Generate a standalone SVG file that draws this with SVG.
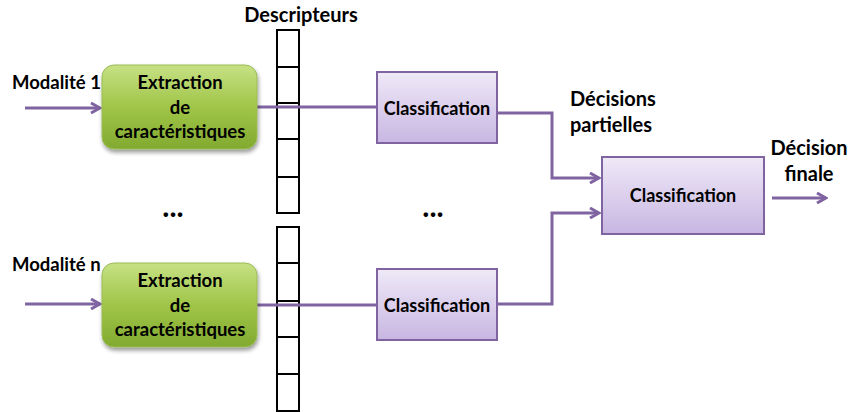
<svg xmlns="http://www.w3.org/2000/svg" width="850" height="412" viewBox="0 0 850 412">
<defs>
<style>
.t{font-family:Lato,"Liberation Sans",Arial,sans-serif;font-weight:bold;fill:#000;}
.c{text-anchor:middle;}
.wire{fill:none;stroke:#8064a2;stroke-width:3;}
.cell{fill:#fff;stroke:#000;stroke-width:2;}
.ext{fill:url(#gGreen);stroke:#9bbb59;stroke-width:1;filter:url(#sh);}
.cls{fill:url(#gPurple);stroke:#8064a2;stroke-width:2;}
</style>
<linearGradient id="gGreen" x1="0" y1="0" x2="0" y2="1">
<stop offset="0" stop-color="#c6e184"/>
<stop offset="0.5" stop-color="#a0c548"/>
<stop offset="1" stop-color="#82aa30"/>
</linearGradient>
<linearGradient id="gPurple" x1="0" y1="0" x2="0" y2="1">
<stop offset="0" stop-color="#efe9f7"/>
<stop offset="1" stop-color="#c8b6e2"/>
</linearGradient>
<filter id="sh" x="-10%" y="-10%" width="125%" height="130%">
<feGaussianBlur in="SourceAlpha" stdDeviation="2"/>
<feOffset dx="1" dy="3" result="b"/>
<feComponentTransfer><feFuncA type="linear" slope="0.4"/></feComponentTransfer>
<feMerge><feMergeNode/><feMergeNode in="SourceGraphic"/></feMerge>
</filter>
<marker id="arr" markerWidth="12" markerHeight="12" refX="10" refY="6" orient="auto" markerUnits="userSpaceOnUse">
<path d="M1,1 L10,6 L1,11" fill="none" stroke="#8064a2" stroke-width="3"/>
</marker>
</defs>

<g id="labels">
<text class="t c" x="301" y="22" font-size="20">Descripteurs</text>
<text class="t" x="12" y="89" font-size="18.5">Modalité 1</text>
<text class="t" x="12" y="271" font-size="18.5">Modalité n</text>
<text class="t" x="570" y="106" font-size="20">Décisions</text>
<text class="t" x="570" y="132" font-size="20">partielles</text>
<text class="t c" x="809" y="155" font-size="20">Décision</text>
<text class="t c" x="809" y="181" font-size="20">finale</text>
<text class="t c" x="173" y="217" font-size="30">...</text>
<text class="t c" x="433" y="217" font-size="30">...</text>
</g>

<g id="descripteurs1">
<rect class="cell" x="277" y="30" width="22" height="37"/>
<rect class="cell" x="277" y="67" width="22" height="36"/>
<rect class="cell" x="277" y="103" width="22" height="36"/>
<rect class="cell" x="277" y="139" width="22" height="38"/>
<rect class="cell" x="277" y="177" width="22" height="36"/>
</g>
<g id="descripteurs2">
<rect class="cell" x="277" y="227" width="22" height="36"/>
<rect class="cell" x="277" y="263" width="22" height="38"/>
<rect class="cell" x="277" y="301" width="22" height="36"/>
<rect class="cell" x="277" y="337" width="22" height="37"/>
<rect class="cell" x="277" y="374" width="22" height="37"/>
</g>

<g id="connectors">
<line class="wire" x1="25" y1="108" x2="100" y2="108" marker-end="url(#arr)"/>
<line class="wire" x1="25" y1="304" x2="100" y2="304" marker-end="url(#arr)"/>
<line class="wire" x1="257" y1="107" x2="377" y2="107"/>
<line class="wire" x1="257" y1="305" x2="377" y2="305"/>
<polyline class="wire" points="497,113 552,113 552,178 599,178" marker-end="url(#arr)"/>
<polyline class="wire" points="497,304 552,304 552,213 599,213" marker-end="url(#arr)"/>
<line class="wire" x1="772" y1="198" x2="826" y2="198" marker-end="url(#arr)"/>
</g>

<g id="extraction1">
<rect class="ext" x="102" y="65" width="155" height="84" rx="12"/>
<text class="t c" x="180" y="89" font-size="18.5">Extraction</text>
<text class="t c" x="180" y="114" font-size="18.5">de</text>
<text class="t c" x="180" y="138" font-size="18.5">caractéristiques</text>
</g>
<g id="extraction2">
<rect class="ext" x="102" y="263" width="155" height="84" rx="12"/>
<text class="t c" x="180" y="287" font-size="18.5">Extraction</text>
<text class="t c" x="180" y="312" font-size="18.5">de</text>
<text class="t c" x="180" y="336" font-size="18.5">caractéristiques</text>
</g>

<g id="classification1">
<rect class="cls" x="377" y="72" width="120" height="71"/>
<text class="t c" x="437" y="115" font-size="18">Classification</text>
</g>
<g id="classification2">
<rect class="cls" x="377" y="269" width="120" height="71"/>
<text class="t c" x="437" y="312" font-size="18">Classification</text>
</g>
<g id="classificationFinale">
<rect class="cls" x="602" y="157" width="162" height="77"/>
<text class="t c" x="683" y="202" font-size="18">Classification</text>
</g>
</svg>
